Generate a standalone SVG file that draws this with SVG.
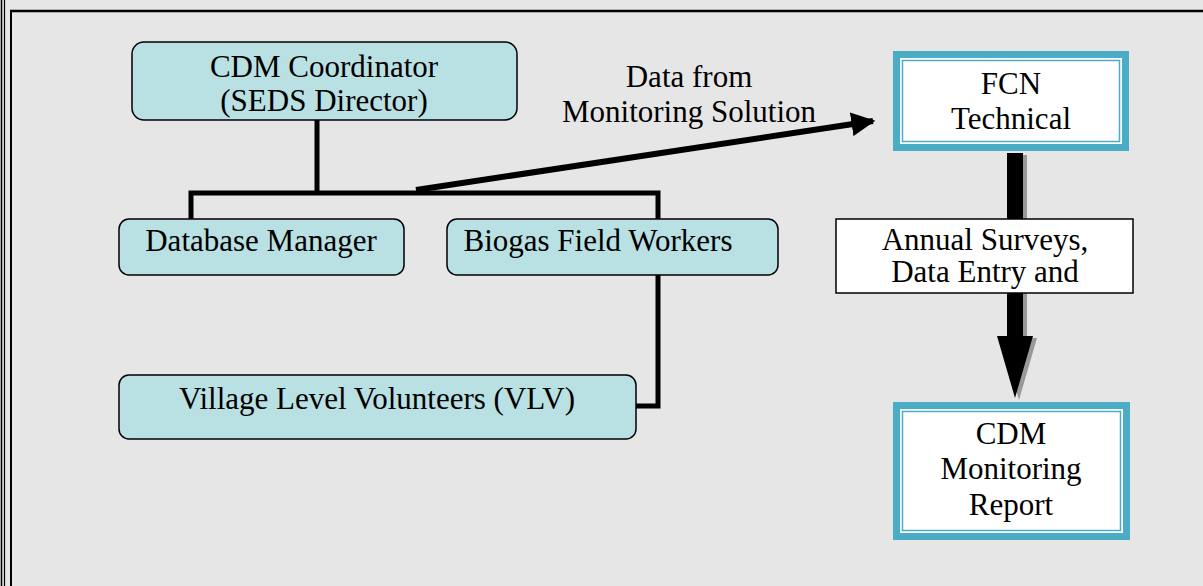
<svg xmlns="http://www.w3.org/2000/svg" width="1203" height="586" viewBox="0 0 1203 586">
<defs>
<style>
.t{font-size:31px;fill:#000;text-anchor:middle}
.rb{fill:#b9e0e3;stroke:#000;stroke-width:1.5}
.ln{fill:none;stroke:#000;stroke-width:5}
.teal{fill:#4bacc6}
</style>
<marker id="ah" viewBox="0 0 10 10" refX="9" refY="5" markerWidth="4" markerHeight="4" orient="auto" markerUnits="strokeWidth">
<path d="M0,0 L10,5 L0,10 Z" fill="#000"/>
</marker>
</defs>
<rect x="0" y="0" width="1203" height="586" fill="#e6e6e6"/>
<g id="frame">
<line x1="1.5" y1="0" x2="1.5" y2="586" stroke="#000" stroke-width="1.5"/>
<line x1="4.5" y1="0" x2="4.5" y2="586" stroke="#000" stroke-width="1.2"/>
<line x1="11" y1="10" x2="11" y2="586" stroke="#000" stroke-width="2"/>
<line x1="10" y1="11" x2="1203" y2="11" stroke="#000" stroke-width="2.5"/>
</g>
<g id="connectors">
<polyline class="ln" points="317,120 317,193"/>
<polyline class="ln" points="191,220 191,193 658,193 658,219"/>
<polyline class="ln" points="658,275 658,406 635,406"/>
<line x1="416" y1="190" x2="873" y2="121" stroke="#000" stroke-width="6" marker-end="url(#ah)"/>
<g id="thick-arrow">
<path d="M1011,155 H1027 V338 H1037 L1019,400 L1001,338 H1011 Z" fill="#999"/>
<path d="M1007,153 H1023 V336 H1033 L1015,398 L997,336 H1007 Z" fill="#000"/>
</g>
</g>
<g font-family="'Liberation Serif', 'Times New Roman', serif">
<g id="cdm-coordinator">
<rect class="rb" x="132" y="42" width="385" height="78" rx="12"/>
<text class="t" x="324" y="77">CDM Coordinator</text>
<text class="t" x="324" y="111">(SEDS Director)</text>
</g>
<g id="database-manager">
<rect class="rb" x="119" y="219" width="285" height="56" rx="10"/>
<text class="t" x="261" y="251">Database Manager</text>
</g>
<g id="biogas-field-workers">
<rect class="rb" x="447" y="219" width="331" height="56" rx="10"/>
<text class="t" x="598" y="251">Biogas Field Workers</text>
</g>
<g id="vlv">
<rect class="rb" x="119" y="375" width="517" height="64" rx="10"/>
<text class="t" x="377" y="409">Village Level Volunteers (VLV)</text>
</g>
<g id="data-label">
<text class="t" x="689" y="87">Data from</text>
<text class="t" x="689" y="122">Monitoring Solution</text>
</g>
<g id="fcn-technical">
<rect class="teal" x="893" y="51" width="236" height="100"/>
<rect x="900" y="58" width="222" height="86" fill="#fff"/>
<rect x="902.5" y="60.5" width="217" height="81" fill="none" stroke="#4bacc6" stroke-width="1.5"/>
<text class="t" x="1011" y="94">FCN</text>
<text class="t" x="1011" y="129">Technical</text>
</g>
<g id="annual-surveys">
<rect x="836" y="219" width="297" height="74" fill="#fff" stroke="#000" stroke-width="1.5"/>
<text class="t" x="985" y="250">Annual Surveys,</text>
<text class="t" x="985" y="282">Data Entry and</text>
</g>
<g id="cdm-monitoring-report">
<rect class="teal" x="893" y="402" width="237" height="138"/>
<rect x="900" y="409" width="223" height="124" fill="#fff"/>
<rect x="902.5" y="411.5" width="218" height="119" fill="none" stroke="#4bacc6" stroke-width="1.5"/>
<text class="t" x="1011" y="444">CDM</text>
<text class="t" x="1011" y="479">Monitoring</text>
<text class="t" x="1011" y="515">Report</text>
</g>
</g>
</svg>
